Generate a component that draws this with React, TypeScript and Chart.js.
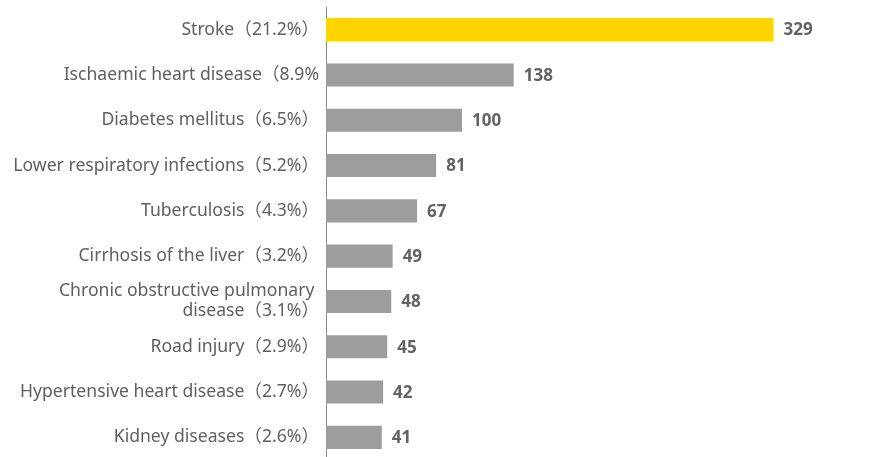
import React, { useEffect, useRef } from "react";
import { Chart, registerables } from "chart.js";

Chart.register(...registerables);

const categories: (string | string[])[] = [
  "Stroke（21.2%）",
  "Ischaemic heart disease（8.9%",
  "Diabetes mellitus（6.5%）",
  "Lower respiratory infections（5.2%）",
  "Tuberculosis（4.3%）",
  "Cirrhosis of the liver（3.2%）",
  ["Chronic obstructive pulmonary ", "disease（3.1%）"],
  "Road injury（2.9%）",
  "Hypertensive heart disease（2.7%）",
  "Kidney diseases（2.6%）",
];
const values: number[] = [329, 138, 100, 81, 67, 49, 48, 45, 42, 41];
const barColors: string[] = [
  "#FFD400", "#9D9D9E", "#9D9D9E", "#9D9D9E", "#9D9D9E",
  "#9D9D9E", "#9D9D9E", "#9D9D9E", "#9D9D9E", "#9D9D9E",
];

const FONT = "'Noto Sans', 'Noto Sans CJK SC', sans-serif";

const valueLabels = {
  id: "valueLabels",
  afterDatasetsDraw(chart: any) {
    const ctx = chart.ctx;
    const meta = chart.getDatasetMeta(0);
    ctx.save();
    ctx.font = `bold 17px ${FONT}`;
    ctx.fillStyle = "#636363";
    ctx.textAlign = "left";
    ctx.textBaseline = "middle";
    meta.data.forEach((el: any, i: number) => {
      ctx.fillText(String(values[i]), el.x + 10, el.y + 1);
    });
    ctx.restore();
  },
};

export default function App() {
  const ref = useRef<HTMLCanvasElement | null>(null);
  useEffect(() => {
    if (!ref.current) return;
    const chart = new Chart(ref.current, {
      type: "bar",
      data: {
        labels: categories,
        datasets: [
          {
            data: values,
            backgroundColor: barColors,
            borderWidth: 0,
            barPercentage: 0.51,
            categoryPercentage: 1,
          },
        ],
      },
      options: {
        indexAxis: "y",
        animation: false,
        responsive: false,
        layout: { padding: { top: 7, bottom: 2, left: 0, right: 7 } },
        plugins: {
          legend: { display: false },
          tooltip: { enabled: false },
        },
        scales: {
          x: { display: false, min: 0, max: 400 },
          y: {
            afterFit: (scale: any) => {
              scale.width = 326;
              scale.paddingTop = 0;
              scale.paddingBottom = 0;
            },
            grid: { display: false, drawTicks: false },
            border: { display: true, color: "#8a8a8a", width: 1 },
            ticks: {
              padding: 7,
              color: "#5f5f5f",
              font: { family: FONT, size: 17.6, lineHeight: 1.14 },
              autoSkip: false,
            },
          },
        },
      },
      plugins: [valueLabels],
    });
    return () => chart.destroy();
  }, []);
  return (
    <div
      style={{
        position: "fixed",
        top: 0,
        left: 0,
        width: 877,
        height: 457,
        overflow: "hidden",
        background: "#fff",
      }}
    >
      <canvas ref={ref} width={877} height={462} style={{ display: "block" }} />
    </div>
  );
}
